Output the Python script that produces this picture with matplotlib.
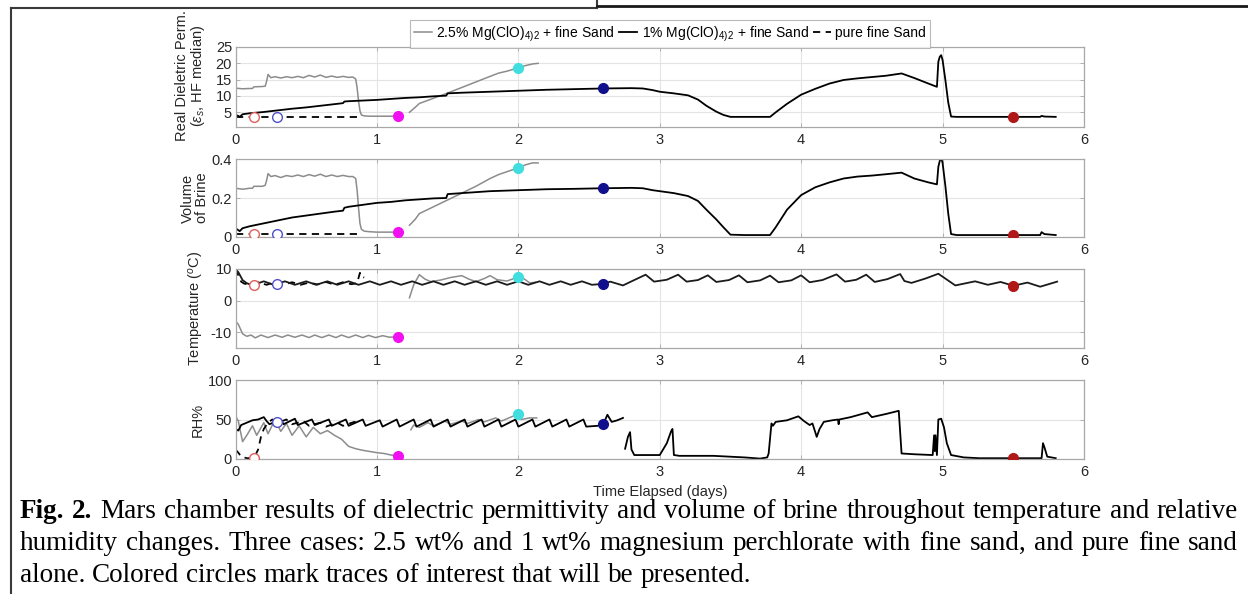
import matplotlib
matplotlib.use("Agg")
import numpy as np
import matplotlib.pyplot as plt
from matplotlib.lines import Line2D

W, H = 1248, 594

# ---- values (time in days) ----
days = [0, 1, 2, 3, 4, 5, 6]

# 1% Mg(ClO4)2 + fine sand (black), permittivity and brine volume share the time base
black_t = [0.00, 0.02, 0.03, 0.05, 0.10, 0.20, 0.30, 0.40, 0.50, 0.60,
           0.70, 0.76, 0.77, 0.80, 0.90, 1.00, 1.10, 1.20, 1.30, 1.40,
           1.49, 1.50, 1.60, 1.80, 2.00, 2.20, 2.40, 2.60, 2.80, 2.88,
           2.95, 3.00, 3.10, 3.20, 3.27, 3.33, 3.40, 3.45, 3.50, 3.60,
           3.70, 3.78, 3.82, 3.90, 4.00, 4.10, 4.20, 4.30, 4.40, 4.50,
           4.60, 4.71, 4.80, 4.90, 4.96, 4.97, 4.98, 4.99, 5.00, 5.02,
           5.04, 5.06, 5.10, 5.30, 5.50, 5.69, 5.70, 5.72, 5.80]
perm_black = [4.2, 3.9, 3.6, 4.4, 4.7, 5.1, 5.6, 6.1, 6.5, 7.0,
              7.5, 7.8, 8.3, 8.4, 8.6, 8.8, 9.1, 9.4, 9.6, 9.9,
              10.1, 10.8, 11.0, 11.3, 11.6, 11.9, 12.1, 12.3, 12.4, 12.3,
              11.8, 11.3, 10.8, 10.2, 8.9, 7.0, 5.2, 4.2, 3.6, 3.6,
              3.6, 3.6, 5.0, 7.6, 10.4, 12.2, 13.8, 14.9, 15.4, 15.8,
              16.2, 16.9, 15.5, 13.8, 12.8, 20.5, 22.0, 22.5, 21.0, 14.8,
              8.0, 3.7, 3.6, 3.6, 3.6, 3.6, 3.9, 3.7, 3.6]
brine_black = [0.045, 0.035, 0.030, 0.045, 0.055, 0.070, 0.085, 0.100, 0.110, 0.120,
               0.130, 0.135, 0.150, 0.155, 0.165, 0.175, 0.180, 0.188, 0.193, 0.198,
               0.200, 0.220, 0.225, 0.235, 0.240, 0.245, 0.247, 0.250, 0.252, 0.250,
               0.240, 0.235, 0.225, 0.210, 0.185, 0.140, 0.090, 0.050, 0.012, 0.010,
               0.010, 0.010, 0.050, 0.140, 0.215, 0.255, 0.280, 0.300, 0.310, 0.315,
               0.322, 0.330, 0.300, 0.280, 0.270, 0.360, 0.390, 0.405, 0.380, 0.260,
               0.120, 0.015, 0.010, 0.010, 0.010, 0.010, 0.025, 0.015, 0.010]

# 2.5% Mg(ClO4)2 + fine sand (gray), two runs
gray1_t = [0.00, 0.05, 0.10, 0.12, 0.13, 0.19, 0.21, 0.22, 0.23, 0.25,
           0.28, 0.32, 0.36, 0.40, 0.44, 0.48, 0.52, 0.56, 0.60, 0.64,
           0.68, 0.72, 0.76, 0.80, 0.83, 0.85, 0.86, 0.87, 0.88, 0.89,
           0.91, 0.95, 1.00, 1.05, 1.10, 1.15]
perm_gray1 = [12.4, 12.2, 12.3, 12.3, 12.8, 12.9, 13.0, 14.5, 16.6, 15.6,
              15.9, 15.5, 15.9, 15.6, 16.0, 15.6, 16.3, 15.8, 16.4, 15.7,
              16.1, 15.7, 16.0, 15.7, 15.8, 15.2, 12.5, 8.5, 5.5, 4.2,
              3.9, 3.8, 3.8, 3.8, 3.8, 3.8]
brine_gray1 = [0.250, 0.245, 0.250, 0.250, 0.260, 0.260, 0.265, 0.290, 0.325, 0.310,
               0.315, 0.305, 0.315, 0.310, 0.318, 0.310, 0.320, 0.312, 0.322, 0.310,
               0.318, 0.310, 0.316, 0.310, 0.310, 0.300, 0.240, 0.150, 0.070, 0.040,
               0.030, 0.027, 0.025, 0.025, 0.025, 0.025]
gray2_t = [1.23, 1.27, 1.30, 1.40, 1.50, 1.60, 1.70, 1.80, 1.86, 1.92, 2.00, 2.05, 2.10, 2.14]
perm_gray2 = [5.0, 6.5, 7.7, 9.3, 10.9, 12.6, 14.3, 16.0, 17.0, 17.6, 18.6, 19.3, 19.8, 20.0]
brine_gray2 = [0.06, 0.09, 0.12, 0.155, 0.19, 0.225, 0.26, 0.30, 0.32, 0.335, 0.355, 0.37, 0.38, 0.38]

# pure fine sand (dashed)
sand_t = [0.00, 0.88]
perm_sand = [3.7, 3.7]
brine_sand = [0.015, 0.015]

# temperature (deg C)
temp_black_t = [0.00, 0.02, 0.05, 0.08, 0.11, 0.14, 0.20, 0.27, 0.35, 0.42,
                0.50, 0.57, 0.65, 0.72, 0.80, 0.87, 0.95, 1.02, 1.10, 1.17,
                1.25, 1.32, 1.40, 1.47, 1.55, 1.62, 1.70, 1.77, 1.85, 1.92,
                2.00, 2.07, 2.15, 2.22, 2.30, 2.37, 2.45, 2.52, 2.60, 2.65,
                2.74, 2.81, 2.90, 2.96, 3.05, 3.13, 3.19, 3.27, 3.34, 3.40,
                3.49, 3.56, 3.62, 3.71, 3.78, 3.84, 3.93, 4.00, 4.06, 4.15,
                4.25, 4.31, 4.39, 4.46, 4.52, 4.61, 4.70, 4.73, 4.78, 4.88,
                4.97, 5.09, 5.23, 5.32, 5.41, 5.50, 5.60, 5.69, 5.81]
temp_black = [10.0, 9.0, 6.5, 5.5, 5.0, 5.2, 6.1, 5.0, 6.1, 5.0,
              6.1, 5.0, 6.1, 5.0, 6.1, 5.0, 6.1, 5.0, 6.1, 5.0,
              6.1, 5.0, 6.1, 5.0, 6.1, 5.0, 6.1, 5.0, 6.1, 5.0,
              6.1, 5.0, 6.1, 5.0, 6.1, 5.0, 6.1, 5.0, 5.3, 6.0,
              4.8, 6.3, 8.2, 6.0, 6.6, 8.2, 6.0, 6.5, 8.0, 5.9,
              6.5, 8.0, 5.8, 6.4, 7.9, 5.8, 6.4, 8.0, 5.8, 6.5,
              8.3, 6.0, 6.6, 8.2, 5.9, 6.8, 8.4, 6.2, 5.6, 7.0,
              8.5, 4.8, 6.1, 5.0, 5.9, 4.7, 5.7, 4.4, 6.0]
temp_gray1_t = [0.00, 0.02, 0.05, 0.08, 0.11, 0.14, 0.18, 0.23, 0.28, 0.33,
                0.37, 0.42, 0.47, 0.52, 0.56, 0.61, 0.66, 0.71, 0.75, 0.80,
                0.85, 0.90, 0.94, 0.99, 1.04, 1.09, 1.15]
temp_gray1 = [-6.6, -7.5, -10.5, -11.3, -10.9, -11.8, -10.9, -11.7, -10.9, -11.6,
              -10.9, -11.6, -10.9, -11.7, -10.9, -11.7, -10.9, -11.7, -10.9, -11.7,
              -10.9, -11.7, -11.0, -11.7, -11.1, -11.6, -11.4]
temp_gray2_t = [1.23, 1.26, 1.30, 1.34, 1.38, 1.45, 1.52, 1.60, 1.65, 1.70,
                1.76, 1.80, 1.85, 1.92, 1.97, 2.00, 2.04, 2.08, 2.12]
temp_gray2 = [0.9, 5.0, 8.2, 6.8, 6.0, 6.5, 7.3, 7.9, 6.8, 6.0,
              7.0, 7.9, 6.6, 6.2, 7.0, 7.6, 6.9, 5.6, 5.8]
temp_sand_t = [0.00, 0.02, 0.04, 0.06, 0.10, 0.16, 0.22, 0.28, 0.34, 0.40,
               0.46, 0.52, 0.58, 0.64, 0.70, 0.76, 0.82, 0.86, 0.87, 0.88,
               0.89, 0.91]
temp_sand = [10.0, 8.0, 6.0, 5.4, 5.0, 5.8, 5.0, 5.9, 5.1, 5.8,
             5.0, 5.7, 5.1, 5.9, 5.0, 5.8, 5.2, 5.5, 7.2, 8.8,
             7.6, 7.3]

# relative humidity (%), NaN marks the break in the black record
rh_black_t = [0.00, 0.02, 0.04, 0.08, 0.12, 0.16, 0.20, 0.22, 0.24, 0.32,
              0.34, 0.42, 0.44, 0.54, 0.56, 0.66, 0.68, 0.78, 0.80, 0.90,
              0.92, 1.02, 1.04, 1.14, 1.16, 1.26, 1.28, 1.38, 1.40, 1.50,
              1.52, 1.62, 1.64, 1.74, 1.76, 1.86, 1.88, 1.98, 2.00, 2.10,
              2.12, 2.22, 2.24, 2.34, 2.36, 2.46, 2.48, 2.56, 2.60, 2.63,
              2.66, 2.70, 2.74, 2.745, 2.755, 2.775, 2.79, 2.80, 2.82, 2.90,
              3.00, 3.05, 3.08, 3.09, 3.10, 3.14, 3.38, 3.60, 3.71, 3.76,
              3.77, 3.79, 3.80, 3.82, 3.90, 3.98, 4.02, 4.06, 4.08, 4.11,
              4.13, 4.16, 4.22, 4.26, 4.265, 4.27, 4.35, 4.47, 4.50, 4.60,
              4.69, 4.71, 4.80, 4.93, 4.94, 4.945, 4.95, 4.96, 4.97, 4.99,
              5.01, 5.03, 5.06, 5.15, 5.26, 5.50, 5.70, 5.71, 5.72, 5.74,
              5.80]
rh_black = [38, 36, 43, 46, 49, 50, 53, 48, 44, 50,
            44, 51, 43, 50, 43, 50, 42, 50, 42, 50,
            42, 49, 41, 50, 41, 50, 41, 50, 41, 50,
            41, 50, 41, 50, 41, 50, 41, 50, 41, 50,
            41, 50, 41, 50, 41, 50, 41, 42, 44, 56,
            47, 49, 52, np.nan, 13, 28, 34, 12, 5, 5,
            5, 20, 35, 38, 5, 4, 4, 2, 0.5, 2,
            7, 45, 42, 47, 49, 54, 48, 43, 45, 28,
            38, 47, 49, 50, 44, 50, 53, 59, 53, 57,
            61, 7, 6, 5, 30, 10, 30, 5, 50, 51,
            40, 20, 5, 2, 1, 1, 1, 20, 15, 3,
            1]
rh_gray1_t = [0.00, 0.02, 0.05, 0.08, 0.12, 0.15, 0.20, 0.23, 0.28, 0.32,
              0.36, 0.40, 0.45, 0.50, 0.55, 0.60, 0.65, 0.70, 0.75, 0.80,
              0.85, 0.90, 1.00, 1.05, 1.10, 1.15]
rh_gray1 = [55, 48, 22, 30, 42, 30, 46, 32, 50, 35,
            45, 30, 42, 28, 40, 32, 36, 30, 25, 16,
            13, 11, 8, 7, 5, 4]
rh_gray2_t = [1.24, 1.26, 1.30, 1.36, 1.40, 1.48, 1.52, 1.60, 1.64, 1.72,
              1.76, 1.84, 1.88, 1.96, 2.00, 2.02, 2.08, 2.13]
rh_gray2 = [37, 43, 40, 46, 42, 48, 44, 48, 45, 50,
            47, 52, 48, 54, 56, 50, 52, 52]
rh_sand_t = [0.00, 0.02, 0.04, 0.08, 0.13, 0.16, 0.18, 0.20, 0.23, 0.26,
             0.30, 0.36, 0.40, 0.48, 0.52, 0.60, 0.64, 0.72, 0.76, 0.84,
             0.88]
rh_sand = [12, 8, 3, 1, 1, 12, 28, 38, 46, 50,
           46, 50, 44, 48, 42, 46, 41, 46, 42, 47,
           44]

# coloured circles marking the traces of interest
mark_t = [0.13, 0.29, 1.15, 2.00, 2.60, 5.50]
mark_perm = [3.7, 3.7, 3.8, 18.6, 12.3, 3.6]
mark_brine = [0.015, 0.015, 0.025, 0.355, 0.25, 0.01]
mark_temp = [5.0, 5.3, -11.5, 7.6, 5.3, 4.7]
mark_rh = [1, 47, 4, 57, 44, 1]
mark_colors = ["#e0605a", "#5050c8", "#f010f0", "#40dede", "#10108c", "#b01818"]
mark_open = [True, True, False, False, False, False]

caption = [
    "Fig. 2. Mars chamber results of dielectric permittivity and volume of brine throughout temperature and relative",
    "humidity changes. Three cases: 2.5 wt% and 1 wt% magnesium perchlorate with fine sand, and pure fine sand",
    "alone. Colored circles mark traces of interest that will be presented.",
]

GRAY = "#8c8c8c"


def px_box(left, top, right, bottom):
    return [left / W, 1 - bottom / H, (right - left) / W, (bottom - top) / H]


def style_axis(ax, ylim, yticks, yticklabels=None):
    ax.set_xlim(0, 6)
    ax.set_ylim(*ylim)
    ax.set_xticks(days)
    ax.set_yticks(yticks)
    if yticklabels is not None:
        ax.set_yticklabels(yticklabels)
    ax.grid(True, color="#e4e4e4", linewidth=0.8)
    ax.set_axisbelow(True)
    for sp in ax.spines.values():
        sp.set_color("#a8a8a8")
        sp.set_linewidth(0.9)
    ax.tick_params(direction="in", length=3, width=0.6, color="#a8a8a8",
                   labelsize=10.5, labelcolor="#262626", top=True, right=True)
    ax.tick_params(axis="y", pad=2.5)
    ax.tick_params(axis="x", pad=4)


def add_marks(ax, values):
    for t, v, c, hollow in zip(mark_t, values, mark_colors, mark_open):
        ax.plot(t, v, "o", ms=7, mec=c, mfc="white" if hollow else c,
                mew=1.0, zorder=5)


def text_width(fig, r, s, fs, weight="normal"):
    t = fig.text(0, 0, s, fontsize=fs, family="Liberation Serif", weight=weight)
    w = t.get_window_extent(r).width
    t.remove()
    return w


def justify(fig, line, y, x0, x1, fs, stretch=True):
    r = fig.canvas.get_renderer()
    words = line.split(" ")
    texts = []
    for i, w in enumerate(words):
        bold = line.startswith("Fig. 2.") and i < 2
        texts.append(fig.text(0, 1 - y / H, w, fontsize=fs, va="center",
                              family="Liberation Serif",
                              weight="bold" if bold else "normal"))
    widths = [t.get_window_extent(r).width for t in texts]
    if stretch:
        gap = (x1 - x0 - sum(widths)) / (len(words) - 1)
    else:
        gap = text_width(fig, r, "a a", fs) - text_width(fig, r, "aa", fs)
    x = x0
    for t, w in zip(texts, widths):
        t.set_x(x / W)
        x += w + gap


def main() -> None:
    plt.rcParams["font.family"] = "Liberation Sans"
    plt.rcParams["axes.unicode_minus"] = False
    plt.rcParams["mathtext.fontset"] = "custom"
    plt.rcParams["mathtext.rm"] = "Liberation Sans"
    plt.rcParams["mathtext.it"] = "Liberation Sans:italic"
    fig = plt.figure(figsize=(W / 100, H / 100), dpi=100)

    boxes = [(47, 127), (159, 237), (269, 348), (380, 459)]
    axs = [fig.add_axes(px_box(235.5, top, 1084, bot)) for top, bot in boxes]

    # permittivity
    ax = axs[0]
    ax.plot(gray1_t, perm_gray1, color=GRAY, lw=1.1)
    ax.plot(gray2_t, perm_gray2, color=GRAY, lw=1.1)
    ax.plot(black_t, perm_black, color="black", lw=1.3)
    ax.plot(sand_t, perm_sand, color="black", lw=1.3, ls=(0, (4, 3)))
    add_marks(ax, mark_perm)
    style_axis(ax, (0.5, 25), [5, 10, 15, 20, 25])

    # brine volume
    ax = axs[1]
    ax.plot(gray1_t, brine_gray1, color=GRAY, lw=1.1)
    ax.plot(gray2_t, brine_gray2, color=GRAY, lw=1.1)
    ax.plot(black_t, brine_black, color="black", lw=1.3)
    ax.plot(sand_t, brine_sand, color="black", lw=1.3, ls=(0, (4, 3)))
    add_marks(ax, mark_brine)
    style_axis(ax, (0, 0.4), [0, 0.2, 0.4], ["0", "0.2", "0.4"])

    # temperature
    ax = axs[2]
    ax.plot(temp_gray1_t, temp_gray1, color=GRAY, lw=1.1)
    ax.plot(temp_gray2_t, temp_gray2, color=GRAY, lw=1.1)
    ax.plot(temp_sand_t, temp_sand, color="black", lw=1.3, ls=(0, (4, 3)))
    ax.plot(temp_black_t, temp_black, color="#1a1a1a", lw=1.3)
    add_marks(ax, mark_temp)
    style_axis(ax, (-15, 10), [-10, 0, 10])

    # relative humidity
    ax = axs[3]
    ax.plot(rh_gray1_t, rh_gray1, color=GRAY, lw=1.1)
    ax.plot(rh_gray2_t, rh_gray2, color=GRAY, lw=1.1)
    ax.plot(rh_sand_t, rh_sand, color="black", lw=1.3, ls=(0, (4, 3)))
    ax.plot(rh_black_t, rh_black, color="black", lw=1.3)
    add_marks(ax, mark_rh)
    style_axis(ax, (0, 100), [0, 50, 100])

    # y labels
    lab = dict(rotation=90, ha="center", va="center", fontsize=10.5, color="#262626")
    fig.text(191 / W, 1 - 76 / H, "Real Dieletric Perm.\n($\\varepsilon_s$, HF median)",
             linespacing=1.05, **lab)
    fig.text(195 / W, 1 - 198 / H, "Volume\nof Brine", linespacing=1.05, **lab)
    fig.text(197 / W, 1 - 308 / H, "Temperature ($^o$C)", **lab)
    fig.text(198 / W, 1 - 420 / H, "RH%", **lab)
    fig.text(660 / W, 1 - 492 / H, "Time Elapsed (days)", ha="center", va="center",
             fontsize=10.5, color="#262626")

    # legend
    handles = [Line2D([], [], color=GRAY, lw=1.1),
               Line2D([], [], color="black", lw=1.3),
               Line2D([], [], color="black", lw=1.3, ls=(0, (4, 3)))]
    labels = ["2.5% Mg(ClO)$_{4)}$$_2$ + fine Sand",
              "1% Mg(ClO)$_{4)}$$_2$ + fine Sand",
              "pure fine Sand"]
    leg = fig.legend(handles, labels, loc="center", bbox_to_anchor=(670 / W, 1 - 34 / H),
                     ncol=3, fontsize=10, handlelength=1.3, handletextpad=0.3,
                     columnspacing=0.3, frameon=True, fancybox=False,
                     borderpad=0.3, borderaxespad=0)
    leg.get_frame().set_edgecolor("#a8a8a8")
    leg.get_frame().set_linewidth(0.8)

    # page frame pieces around the figure
    frame = dict(color="#3a3a3a", lw=1.5, transform=fig.transFigure)
    fig.add_artist(Line2D([11 / W, 11 / W], [0, 1 - 8 / H], **frame))
    fig.add_artist(Line2D([11 / W, 597 / W], [1 - 8 / H, 1 - 8 / H], **frame))
    fig.add_artist(Line2D([597 / W, 597 / W], [1, 1 - 8 / H], **frame))
    fig.add_artist(Line2D([597 / W, 1248 / W], [1 - 6 / H, 1 - 6 / H],
                          color="#1a1a1a", lw=2.0, transform=fig.transFigure))

    # caption, justified like the journal page
    fs = 19.5
    justify(fig, caption[0], 511, 20, 1238, fs)
    justify(fig, caption[1], 543, 20, 1238, fs)
    justify(fig, caption[2], 576, 20, 1238, fs, stretch=False)

    fig.savefig("out.png", dpi=100)
    plt.close(fig)


if __name__ == "__main__":
    main()
